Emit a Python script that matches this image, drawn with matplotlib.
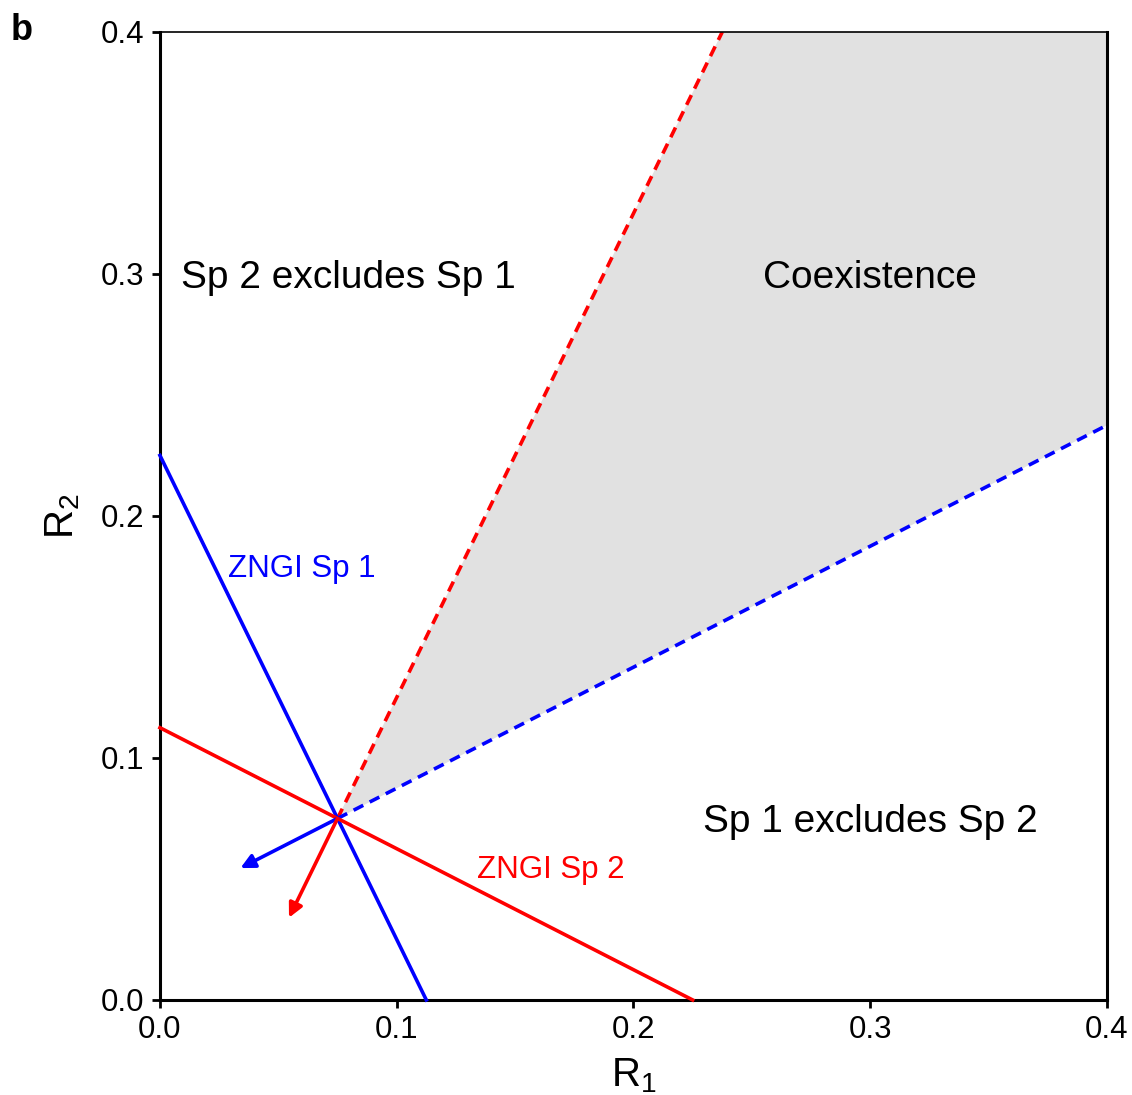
import matplotlib
matplotlib.use("Agg")
import matplotlib.pyplot as plt
import numpy as np

plt.rcParams['font.family'] = ['Liberation Sans', 'DejaVu Sans']
plt.rcParams['mathtext.fontset'] = 'custom'
plt.rcParams['mathtext.rm'] = 'Liberation Sans'
plt.rcParams['mathtext.it'] = 'Liberation Sans'

# Resource requirements and consumption
r_star = (0.075, 0.075)          # intersection point of the two ZNGIs
zngi_sp1 = ([0.0, 0.1125], [0.225, 0.0])   # x, y endpoints
zngi_sp2 = ([0.0, 0.225], [0.1125, 0.0])
slope_sp1 = 0.5   # consumption vector slope Sp 1 (blue)
slope_sp2 = 2.0   # consumption vector slope Sp 2 (red)
ticks = [0.0, 0.1, 0.2, 0.3, 0.4]
tick_labels = ["0.0", "0.1", "0.2", "0.3", "0.4"]

BLUE = "#0000ff"
RED = "#ff0000"
LW = 2.6
DASH = (0, (3.0, 2.0))

fig = plt.figure(figsize=(11.32, 10.95), dpi=100)
ax = fig.add_axes([0.1413, 0.0868, 0.8366, 0.884])
ax.set_xlim(0, 0.4)
ax.set_ylim(0, 0.4)

x0, y0 = r_star
# dashed boundaries of the coexistence region
x_red_top = x0 + (0.4 - y0) / slope_sp2
y_blue_right = y0 + slope_sp1 * (0.4 - x0)
ax.fill([x0, x_red_top, 0.4, 0.4], [y0, 0.4, 0.4, y_blue_right],
        color="#e1e1e1", lw=0, zorder=0)
ax.plot([x0, x_red_top], [y0, 0.4], color=RED, lw=LW, ls=DASH, zorder=2)
ax.plot([x0, 0.4], [y0, y_blue_right], color=BLUE, lw=LW, ls=DASH, zorder=2)

# ZNGIs
ax.plot(*zngi_sp1, color=BLUE, lw=LW, zorder=3, clip_on=False)
ax.plot(*zngi_sp2, color=RED, lw=LW, zorder=3, clip_on=False)

# consumption vectors
dx1 = -0.041
ax.annotate("", xy=(x0 + dx1, y0 + slope_sp1 * dx1), xytext=(x0, y0),
            arrowprops=dict(arrowstyle="-|>", color=BLUE, lw=LW,
                            mutation_scale=21, shrinkA=0, shrinkB=0), zorder=4)
dx2 = -0.0205
ax.annotate("", xy=(x0 + dx2, y0 + slope_sp2 * dx2), xytext=(x0, y0),
            arrowprops=dict(arrowstyle="-|>", color=RED, lw=LW,
                            mutation_scale=21, shrinkA=0, shrinkB=0), zorder=4)

# region labels
fs = 28
ax.text(0.009, 0.2985, "Sp 2 excludes Sp 1", fontsize=fs, ha="left", va="center")
ax.text(0.3, 0.2985, "Coexistence", fontsize=fs, ha="center", va="center")
ax.text(0.3, 0.0735, "Sp 1 excludes Sp 2", fontsize=fs, ha="center", va="center")
ax.text(0.0598, 0.178, "ZNGI Sp 1", fontsize=22.5, color=BLUE, ha="center", va="center")
ax.text(0.165, 0.0535, "ZNGI Sp 2", fontsize=22.5, color=RED, ha="center", va="center")

ax.set_xticks(ticks)
ax.set_xticklabels(tick_labels)
ax.set_yticks(ticks)
ax.set_yticklabels(tick_labels)
ax.tick_params(labelsize=22.5, width=2, length=6, direction="out", pad=5)

for side in ["left", "bottom", "right"]:
    ax.spines[side].set_linewidth(2.2)
ax.spines["top"].set_linewidth(1.2)

ax.set_xlabel("R$_1$", fontsize=29, labelpad=8)
ax.set_ylabel("R$_2$", fontsize=29, labelpad=14)

fig.text(0.009, 0.988, "b", fontsize=26, fontweight="bold", ha="left", va="top")

fig.savefig("out.png", dpi=100)
